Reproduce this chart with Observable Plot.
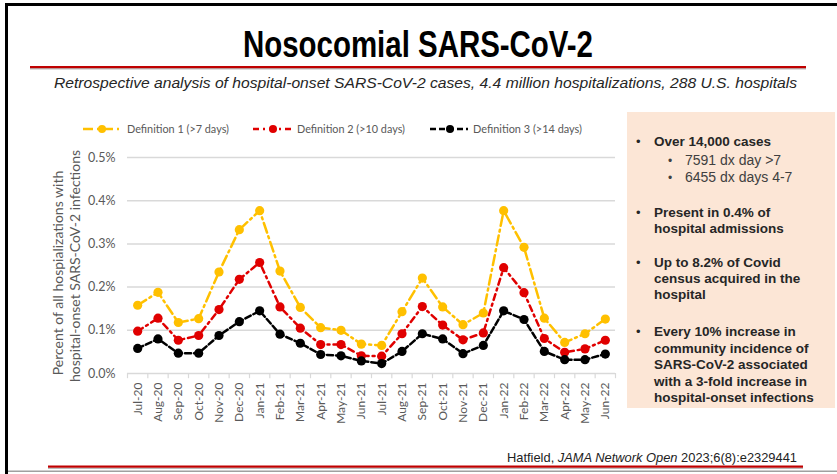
<!DOCTYPE html>
<html>
<head>
<meta charset="utf-8">
<script src="https://cdn.jsdelivr.net/npm/d3@7"></script>
<script src="https://cdn.jsdelivr.net/npm/@observablehq/plot@0.6"></script>
<style>
  html, body { margin: 0; padding: 0; background: #fff; }
  #wrap { position: relative; width: 837px; height: 474px; overflow: hidden; background: #fff; }
  #overlay { position: absolute; left: 0; top: 0; }
  #chart { position: absolute; left: 0; top: 140px; }
</style>
</head>
<body>
<div id="wrap">
  <svg id="overlay" width="837" height="474" xmlns="http://www.w3.org/2000/svg"></svg>
  <div id="chart"></div>
</div>
<script>
// ---- data ----
const months = ["Jul-20","Aug-20","Sep-20","Oct-20","Nov-20","Dec-20","Jan-21","Feb-21","Mar-21","Apr-21","May-21","Jun-21","Jul-21","Aug-21","Sep-21","Oct-21","Nov-21","Dec-21","Jan-22","Feb-22","Mar-22","Apr-22","May-22","Jun-22"];
const def1 = [0.158,0.188,0.118,0.127,0.235,0.333,0.377,0.237,0.153,0.106,0.100,0.068,0.065,0.143,0.221,0.154,0.113,0.140,0.377,0.292,0.128,0.072,0.092,0.126];
const def2 = [0.098,0.128,0.077,0.088,0.148,0.218,0.257,0.154,0.105,0.067,0.067,0.041,0.040,0.092,0.155,0.112,0.078,0.094,0.245,0.187,0.081,0.049,0.057,0.077];
const def3 = [0.058,0.080,0.047,0.047,0.088,0.120,0.145,0.091,0.070,0.044,0.041,0.029,0.023,0.051,0.092,0.080,0.046,0.065,0.145,0.125,0.051,0.032,0.032,0.045];
const seriesNames = ["Definition 1 (>7 days)", "Definition 2 (>10 days)", "Definition 3 (>14 days)"];
const seriesColors = ["#FFC000", "#E00000", "#000000"];
const seriesDash = ["10,4,2,4", "6,4,2,4", "6,3"];
const yTicks = [0, 0.1, 0.2, 0.3, 0.4, 0.5];
const title = "Nosocomial SARS-CoV-2";
const subtitle = "Retrospective analysis of hospital-onset SARS-CoV-2 cases, 4.4 million hospitalizations, 288 U.S. hospitals";
const yTitle = ["Percent of all hospializations with", "hospital-onset SARS-CoV-2 infections"];
const boxItems = [
  {bold: ["Over 14,000 cases"], sub: ["7591 dx day >7", "6455 dx days 4-7"]},
  {bold: ["Present in 0.4% of", "hospital admissions"], sub: []},
  {bold: ["Up to 8.2% of Covid", "census acquired in the", "hospital"], sub: []},
  {bold: ["Every 10% increase in", "community incidence of", "SARS-CoV-2 associated", "with a 3-fold increase in", "hospital-onset infections"], sub: []}
];
const citation = {author: "Hatfield, ", journal: "JAMA Network Open", ref: " 2023;6(8):e2329441"};

// ---- chart table ----
const allSeries = [def1, def2, def3];
const table = allSeries.flatMap((vals, s) => vals.map((v, i) => ({s, i, v})));

const marks = [
  Plot.gridY(yTicks, {stroke: "#d9d9d9", strokeOpacity: 1, strokeWidth: 1.5}),
  Plot.ruleX(d3.range(months.length + 1).map(i => i - 0.5), {y1: 0, y2: -0.012, stroke: "#d9d9d9", strokeWidth: 1.2}),
  Plot.axisY(yTicks, {tickSize: 0, tickPadding: 12, tickFormat: d => d.toFixed(1) + "%", fontSize: 12.5, label: null}),
  Plot.axisX(d3.range(months.length), {tickSize: 0, tickPadding: 9, tickRotate: -90, tickFormat: i => months[i], fontSize: 12, label: null})
];
allSeries.forEach((vals, s) => {
  const rows = table.filter(d => d.s === s);
  marks.push(Plot.line(rows, {x: "i", y: "v", stroke: seriesColors[s], strokeWidth: 2.5, strokeDasharray: seriesDash[s]}));
  marks.push(Plot.dot(rows, {x: "i", y: "v", fill: seriesColors[s], r: 4.6, stroke: "none"}));
});

const plot = Plot.plot({
  width: 627,
  height: 300,
  marginLeft: 127,
  marginRight: 12,
  marginTop: 17,
  marginBottom: 67,
  style: {background: "transparent", color: "#595959", fontFamily: "Lato, 'Noto Sans', sans-serif"},
  x: {type: "linear", domain: [-0.5, months.length - 0.5]},
  y: {domain: [0, 0.5]},
  marks
});
document.getElementById("chart").appendChild(plot);

// ---- overlay (slide decoration, titles, legend, text box) ----
const ov = d3.select("#overlay");
// borders
ov.append("rect").attr("x", 5).attr("y", 3).attr("width", 832).attr("height", 3).attr("fill", "#000");
ov.append("rect").attr("x", 5).attr("y", 3).attr("width", 3).attr("height", 471).attr("fill", "#000");
ov.append("rect").attr("x", 8).attr("y", 470.5).attr("width", 829).attr("height", 1.5).attr("fill", "#a0a0a0");
// title
ov.append("text").attr("x", 418).attr("y", 57).attr("text-anchor", "middle")
  .attr("font-family", "'Liberation Sans', Arial, sans-serif")
  .attr("font-weight", "bold").attr("font-size", 37).attr("fill", "#000")
  .attr("textLength", 350).attr("lengthAdjust", "spacingAndGlyphs").text(title);
// red rule under title
ov.append("rect").attr("x", 30).attr("y", 68).attr("width", 776).attr("height", 1.5).attr("fill", "#bbb");
ov.append("rect").attr("x", 30).attr("y", 66).attr("width", 776).attr("height", 2.2).attr("fill", "#C00000");
// subtitle
ov.append("text").attr("x", 54).attr("y", 88)
  .attr("font-family", "'Liberation Sans', Arial, sans-serif")
  .attr("font-style", "italic").attr("font-size", 15.5).attr("fill", "#262626")
  .attr("textLength", 743).attr("lengthAdjust", "spacingAndGlyphs").text(subtitle);
// y-axis title
const yt = [{x: 63, y: 273}, {x: 80, y: 266}];
yTitle.forEach((t, k) => {
  ov.append("text").attr("transform", `translate(${yt[k].x},${yt[k].y}) rotate(-90)`)
    .attr("text-anchor", "middle").attr("font-family", "Lato, 'Noto Sans', sans-serif")
    .attr("font-size", 14).attr("fill", "#595959").text(t);
});
// legend
const leg = [{x0: 83, x1: 121, mx: 102, tx: 127, tw: 102}, {x0: 253, x1: 291, mx: 273, tx: 297, tw: 108}, {x0: 430, x1: 468, mx: 450, tx: 473, tw: 109}];
leg.forEach((l, s) => {
  ov.append("line").attr("x1", l.x0).attr("x2", l.x1).attr("y1", 129).attr("y2", 129)
    .attr("stroke", seriesColors[s]).attr("stroke-width", 2.5).attr("stroke-dasharray", seriesDash[s]);
  ov.append("circle").attr("cx", l.mx).attr("cy", 129).attr("r", 4).attr("fill", seriesColors[s]);
  ov.append("text").attr("x", l.tx).attr("y", 133).attr("font-family", "Lato, 'Noto Sans', sans-serif")
    .attr("font-size", 12).attr("fill", "#595959")
    .attr("textLength", l.tw).attr("lengthAdjust", "spacingAndGlyphs").text(seriesNames[s]);
});
// text box
ov.append("rect").attr("x", 627).attr("y", 112).attr("width", 208).attr("height", 296).attr("fill", "#FCE6D6");
const boxFont = "'Liberation Sans', Arial, sans-serif";
const boxStarts = [146, 217, 267, 336];
boxItems.forEach((item, k) => {
  let y = boxStarts[k];
  ov.append("text").attr("x", 636).attr("y", y).attr("font-family", boxFont).attr("font-size", 13).attr("fill", "#262626").text("•");
  item.bold.forEach((line, j) => {
    ov.append("text").attr("x", 654).attr("y", y + j * (k === 3 ? 16.5 : 16)).attr("font-family", boxFont)
      .attr("font-weight", "bold").attr("font-size", 13.5).attr("fill", "#262626").text(line);
  });
  item.sub.forEach((line, j) => {
    const yy = y + 19 + j * 17;
    ov.append("text").attr("x", 668).attr("y", yy).attr("font-family", boxFont).attr("font-size", 12).attr("fill", "#404040").text("•");
    ov.append("text").attr("x", 685).attr("y", yy).attr("font-family", boxFont).attr("font-size", 14).attr("fill", "#404040").text(line);
  });
});
// citation
const cit = ov.append("text").attr("x", 507).attr("y", 462)
  .attr("font-family", "'Liberation Sans', Arial, sans-serif").attr("font-size", 13.5).attr("fill", "#222")
  .attr("textLength", 290).attr("lengthAdjust", "spacingAndGlyphs");
cit.append("tspan").text(citation.author);
cit.append("tspan").attr("font-style", "italic").text(citation.journal);
cit.append("tspan").text(citation.ref);
ov.append("rect").attr("x", 48).attr("y", 467.5).attr("width", 755).attr("height", 1.5).attr("fill", "#bbb");
ov.append("rect").attr("x", 48).attr("y", 465.5).attr("width", 755).attr("height", 2.2).attr("fill", "#C00000");
</script>
</body>
</html>
